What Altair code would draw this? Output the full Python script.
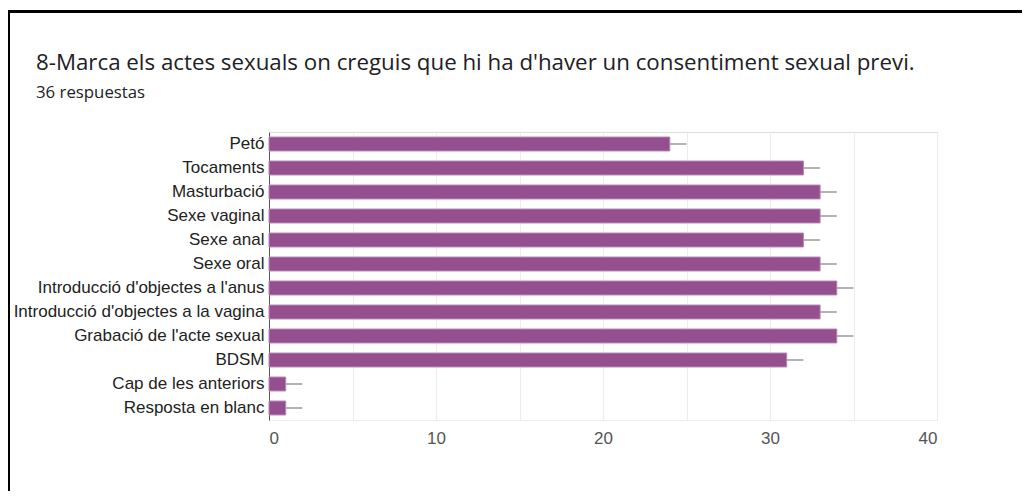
import altair as alt
import pandas as pd

categories = [
    "Petó", "Tocaments", "Masturbació", "Sexe vaginal", "Sexe anal",
    "Sexe oral", "Introducció d'objectes a l'anus",
    "Introducció d'objectes a la vagina", "Grabació de l'acte sexual",
    "BDSM", "Cap de les anteriors", "Resposta en blanc",
]
counts = [24, 32, 33, 33, 32, 33, 34, 33, 34, 31, 1, 1]
x_ticks = [0, 5, 10, 15, 20, 25, 30, 35, 40]
title_text = "8-Marca els actes sexuals on creguis que hi ha d'haver un consentiment sexual previ."
subtitle_text = "36 respuestas"

df = pd.DataFrame({"cat": categories, "n": counts})
df["n_end"] = df["n"] + 1

W, H = 668, 288
PAD_L, PAD_T = 261, 124

y_enc = alt.Y("cat:N", sort=categories, title=None,
              scale=alt.Scale(paddingInner=0.42, paddingOuter=0.21),
              axis=alt.Axis(labelFont="Liberation Sans", labelFontSize=17,
                            labelColor="#222222", labelPadding=5, labelLimit=400,
                            ticks=False, domainColor="#555555",
                            domainWidth=1, grid=False))
x_enc = alt.X("n:Q", title=None,
              scale=alt.Scale(domain=[0, 40], nice=False),
              axis=alt.Axis(values=x_ticks, labelExpr="datum.value % 10 == 0 ? datum.label : ''",
                            labelFont="Liberation Sans", labelFontSize=17,
                            labelColor="#555555", labelPadding=10,
                            ticks=False, domainColor="#eeeeee",
                            gridColor="#ececec", gridWidth=1))

base = alt.Chart(df)

bars = base.mark_bar(color="#954F8F", stroke="#B683B1", strokeWidth=1).encode(
    x=x_enc, y=y_enc
)

lines = base.mark_rule(color="#9a9a9a", strokeWidth=1.5).encode(
    x="n:Q", x2="n_end:Q", y=alt.Y("cat:N", sort=categories)
)

one = pd.DataFrame({"a": [0]})
border_top = alt.Chart(one).mark_rule(color="#000000", strokeWidth=3).encode(
    x=alt.value(-262), x2=alt.value(W + 100), y=alt.value(-120.5)
)
border_left = alt.Chart(one).mark_rule(color="#000000", strokeWidth=3).encode(
    x=alt.value(-260.5), y=alt.value(-122), y2=alt.value(H + 100)
)
title_mark = alt.Chart(one).mark_text(
    text=title_text, align="left", baseline="middle",
    font="Open Sans", fontSize=22.3, color="#202124"
).encode(x=alt.value(-233), y=alt.value(-69))
subtitle_mark = alt.Chart(one).mark_text(
    text=subtitle_text, align="left", baseline="middle",
    font="Open Sans", fontSize=16.8, color="#202124"
).encode(x=alt.value(-233), y=alt.value(-39))

chart = alt.layer(bars, lines, border_top, border_left, title_mark, subtitle_mark).properties(
    width=W, height=H,
    padding={"left": PAD_L, "top": PAD_T, "right": 85, "bottom": 71},
    autosize=alt.AutoSizeParams(type="none"),
).configure_view(stroke="#eeeeee", strokeWidth=1).configure(background="white")

chart.save("out.html", embed_options={"renderer": "svg", "actions": False})
